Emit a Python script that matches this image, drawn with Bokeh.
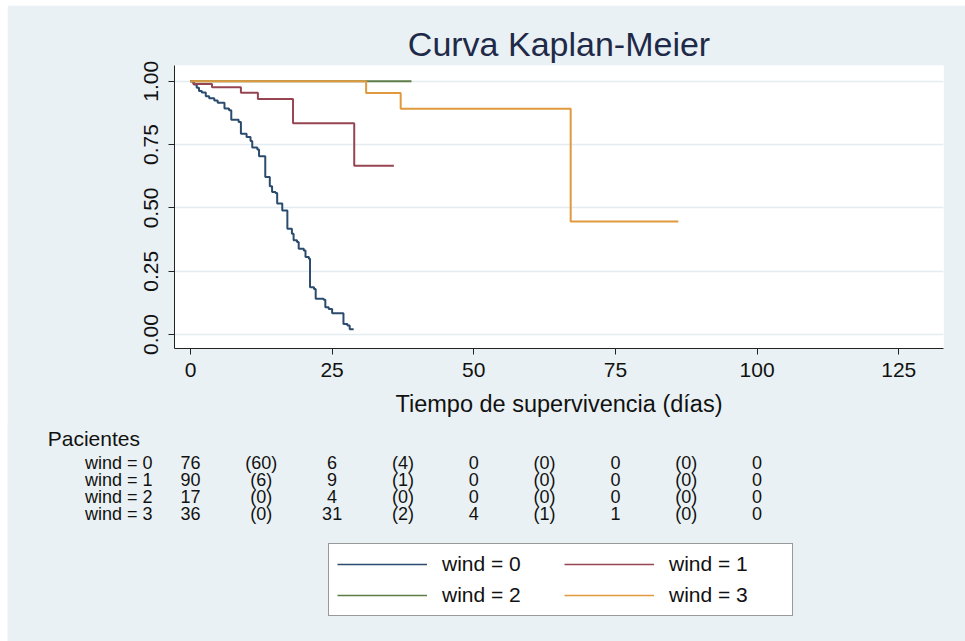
from bokeh.plotting import figure
from bokeh.models import (Range1d, FixedTicker, NumeralTickFormatter,
                          Legend, LegendItem)
from bokeh.embed import file_html
from bokeh.resources import INLINE
from bokeh.core.properties import value

FONT = "Liberation Sans"
BG = "#eaf1f4"

# ---------------- data ----------------
groups = ["wind = 0", "wind = 1", "wind = 2", "wind = 3"]
colors = ["#2a4b6d", "#964452", "#5e7d46", "#e0993c"]

time_w0 = [0, 0.6, 1.1, 1.5, 2.0, 2.7, 3.3, 4.2, 4.8, 6.0, 6.8, 7.2, 8.5, 8.9, 9.9,
           10.6, 10.9, 11.8, 12.1, 13.2, 14.0, 14.4, 15.0, 15.3, 16.2, 17.1, 17.9,
           18.2, 18.8, 19.1, 20.0, 20.3, 20.9, 21.1, 21.8, 22.1, 23.5, 23.8, 24.4,
           25.0, 27.0, 27.7, 28.1, 28.8]
surv_w0 = [1.0, 0.987, 0.974, 0.961, 0.955, 0.941, 0.933, 0.924, 0.915, 0.892, 0.885,
           0.848, 0.839, 0.793, 0.780, 0.764, 0.738, 0.730, 0.704, 0.622, 0.585, 0.563,
           0.559, 0.517, 0.490, 0.418, 0.398, 0.372, 0.365, 0.339, 0.332, 0.306, 0.299,
           0.187, 0.180, 0.141, 0.137, 0.108, 0.101, 0.084, 0.042, 0.036, 0.021, 0.021]

time_w1 = [0, 0.5, 3.8, 8.9, 11.9, 18.1, 28.9, 35.9]
surv_w1 = [1.0, 0.989, 0.976, 0.954, 0.930, 0.834, 0.666, 0.666]

time_w2 = [0, 39.0]
surv_w2 = [1.0, 1.0]

time_w3 = [0, 31.0, 37.1, 67.1, 86.1]
surv_w3 = [1.0, 0.953, 0.891, 0.446, 0.446]

x_ticks = [0, 25, 50, 75, 100, 125]
y_ticks = [0, 0.25, 0.5, 0.75, 1.0]

# number at risk table
risk_times = [0, 25, 50, 75, 100]
event_times = [12.5, 37.5, 62.5, 87.5]
at_risk = [[76, 6, 0, 0, 0],
           [90, 9, 0, 0, 0],
           [17, 4, 0, 0, 0],
           [36, 31, 4, 1, 0]]
events = [[60, 4, 0, 0],
          [6, 1, 0, 0],
          [0, 0, 0, 0],
          [0, 2, 1, 0]]

# ---------------- main plot ----------------
X0, X1 = -2.82, 132.9
FRAME_L, FRAME_R = 167, 22
W = 958

p = figure(width=W, height=420, x_range=Range1d(X0, X1), y_range=Range1d(-0.055, 1.062),
           output_backend="svg", toolbar_location=None,
           min_border_left=FRAME_L, min_border_right=FRAME_R,
           min_border_top=60, min_border_bottom=77,
           background_fill_color="white", border_fill_color=BG,
           outline_line_color=None)
p.margin = (5, 0, 0, 7)

p.title.text = "Curva Kaplan-Meier"
p.title.align = "center"
p.title.text_font = FONT
p.title.text_font_size = "34px"
p.title.text_font_style = "normal"
p.title.text_color = "#1e2a48"
p.title.standoff = 5

series = [(time_w0, surv_w0), (time_w1, surv_w1), (time_w2, surv_w2), (time_w3, surv_w3)]
for (t_, s_), c in zip(series, colors):
    p.step(x=t_, y=s_, mode="after", line_color=c, line_width=2)

p.xgrid.visible = False
p.ygrid.grid_line_color = "#e3ecf0"
p.ygrid.grid_line_width = 1.5

p.xaxis.ticker = FixedTicker(ticks=x_ticks)
p.yaxis.ticker = FixedTicker(ticks=y_ticks)
p.yaxis.formatter = NumeralTickFormatter(format="0.00")
p.yaxis.major_label_orientation = "vertical"
p.xaxis.axis_label = "Tiempo de supervivencia (días)"

for ax in (p.xaxis, p.yaxis):
    ax.minor_tick_line_color = None
    ax.major_tick_in = 0
    ax.major_tick_out = 6
    ax.axis_line_color = "#222222"
    ax.major_tick_line_color = "#222222"
    ax.major_label_text_font = FONT
    ax.major_label_text_font_size = "21px"
    ax.major_label_text_color = "#111111"
    ax.axis_label_text_font = FONT
    ax.axis_label_text_font_size = "23.5px"
    ax.axis_label_text_font_style = "normal"
    ax.axis_label_text_color = "#111111"

p.xaxis.major_label_standoff = 8
p.yaxis.major_label_standoff = 10
p.xaxis.axis_label_standoff = 11

# ---------------- table + legend (separate root, full-width frame) ----------------
scale = (W - FRAME_L - FRAME_R) / (X1 - X0)
TH = 217
t = figure(width=W, height=TH,
           x_range=Range1d(X0 - FRAME_L / scale, X1 + FRAME_R / scale),
           y_range=Range1d(TH, 0),
           output_backend="svg", toolbar_location=None,
           min_border_left=0, min_border_right=0, min_border_top=0, min_border_bottom=0,
           x_axis_type=None, y_axis_type=None,
           background_fill_color=BG, border_fill_color=BG, outline_line_color=None)
t.margin = (-1, 0, 0, 7)
t.xgrid.visible = False
t.ygrid.visible = False

row_y = [38, 55, 72, 89]
label_x = -6.7

t.text(x=[-25.2], y=[14], text=["Pacientes"], text_font=value(FONT), text_font_size="21px",
       text_align="left", text_baseline="middle", text_color="#111111")

lx, ly, lt = [], [], []
vx, vy, vt = [], [], []
for i, g in enumerate(groups):
    lx.append(label_x); ly.append(row_y[i]); lt.append(g)
    for tt, n in zip(risk_times, at_risk[i]):
        vx.append(tt); vy.append(row_y[i]); vt.append(str(n))
    for tt, n in zip(event_times, events[i]):
        vx.append(tt); vy.append(row_y[i]); vt.append("(%d)" % n)

t.text(x=lx, y=ly, text=lt, text_font=value(FONT), text_font_size="18px",
       text_align="right", text_baseline="middle", text_color="#111111")
t.text(x=vx, y=vy, text=vt, text_font=value(FONT), text_font_size="18px",
       text_align="center", text_baseline="middle", text_color="#111111")

nan = float("nan")
items = []
for g, c in zip(groups, colors):
    r = t.line(x=[nan], y=[nan], line_color=c, line_width=1.5)
    items.append(LegendItem(label=g, renderers=[r]))

legend = Legend(items=items, ncols=2, orientation="horizontal", location=(321, 25),
                glyph_width=90, glyph_height=22, label_height=22, label_width=115,
                label_standoff=15, spacing=7, padding=8, margin=0,
                label_text_font=FONT, label_text_font_size="21px", label_text_color="#111111",
                border_line_color="#333333", border_line_width=1.2,
                background_fill_color="white", background_fill_alpha=1.0)
t.add_layout(legend, "center")

open("out.html", "w").write(file_html([p, t], INLINE))
